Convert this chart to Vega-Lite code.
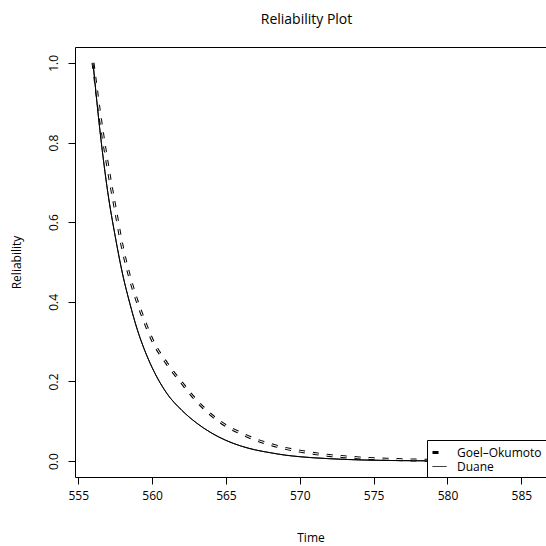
{
  "$schema": "https://vega.github.io/schema/vega-lite/v6.json",
  "width": 471,
  "height": 430,
  "autosize": {"type": "none"},
  "padding": {"left": 75, "top": 47, "right": 0, "bottom": 69},
  "background": "white",
  "config": {
    "font": "Open Sans",
    "view": {"stroke": "black", "strokeWidth": 1},
    "axis": {
      "domain": false,
      "grid": false,
      "tickColor": "black",
      "tickSize": 7,
      "labelColor": "black",
      "labelFontSize": 12,
      "titleColor": "black",
      "titleFontSize": 12,
      "titleFontWeight": "normal"
    },
    "legend": {
      "orient": "bottom-right",
      "offset": 0,
      "strokeColor": "black",
      "fillColor": "white",
      "padding": 4,
      "rowPadding": 0,
      "symbolType": "stroke",
      "symbolSize": 196,
      "symbolStrokeColor": "black",
      "labelFontSize": 12,
      "labelColor": "black",
      "labelOffset": 9,
      "labelLimit": 200
    }
  },
  "title": {
    "text": "Reliability Plot",
    "fontSize": 14,
    "fontWeight": "normal",
    "color": "black",
    "anchor": "middle",
    "frame": "group",
    "dx": -4,
    "offset": 20
  },
  "data": {
    "values": [
      {"model": "Goel–Okumoto", "t": 556, "R": 1.0},
      {"model": "Goel–Okumoto", "t": 556.5, "R": 0.86},
      {"model": "Goel–Okumoto", "t": 557, "R": 0.74},
      {"model": "Goel–Okumoto", "t": 557.5, "R": 0.635},
      {"model": "Goel–Okumoto", "t": 558, "R": 0.535},
      {"model": "Goel–Okumoto", "t": 558.5, "R": 0.46},
      {"model": "Goel–Okumoto", "t": 559, "R": 0.40},
      {"model": "Goel–Okumoto", "t": 559.5, "R": 0.35},
      {"model": "Goel–Okumoto", "t": 560, "R": 0.305},
      {"model": "Goel–Okumoto", "t": 561, "R": 0.245},
      {"model": "Goel–Okumoto", "t": 562, "R": 0.197},
      {"model": "Goel–Okumoto", "t": 563, "R": 0.152},
      {"model": "Goel–Okumoto", "t": 564, "R": 0.116},
      {"model": "Goel–Okumoto", "t": 565, "R": 0.089},
      {"model": "Goel–Okumoto", "t": 566, "R": 0.07},
      {"model": "Goel–Okumoto", "t": 567, "R": 0.054},
      {"model": "Goel–Okumoto", "t": 568, "R": 0.042},
      {"model": "Goel–Okumoto", "t": 569, "R": 0.032},
      {"model": "Goel–Okumoto", "t": 570, "R": 0.025},
      {"model": "Goel–Okumoto", "t": 571, "R": 0.019},
      {"model": "Goel–Okumoto", "t": 572, "R": 0.014},
      {"model": "Goel–Okumoto", "t": 573, "R": 0.011},
      {"model": "Goel–Okumoto", "t": 574, "R": 0.008},
      {"model": "Goel–Okumoto", "t": 576, "R": 0.0045},
      {"model": "Goel–Okumoto", "t": 578, "R": 0.0025},
      {"model": "Goel–Okumoto", "t": 580, "R": 0.0014},
      {"model": "Goel–Okumoto", "t": 583, "R": 0.0006},
      {"model": "Goel–Okumoto", "t": 586.5, "R": 0.0002},
      {"model": "Duane", "t": 556, "R": 1.0},
      {"model": "Duane", "t": 556.5, "R": 0.82},
      {"model": "Duane", "t": 557, "R": 0.675},
      {"model": "Duane", "t": 557.5, "R": 0.565},
      {"model": "Duane", "t": 558, "R": 0.47},
      {"model": "Duane", "t": 558.5, "R": 0.395},
      {"model": "Duane", "t": 559, "R": 0.33},
      {"model": "Duane", "t": 559.5, "R": 0.278},
      {"model": "Duane", "t": 560, "R": 0.235},
      {"model": "Duane", "t": 561, "R": 0.17},
      {"model": "Duane", "t": 562, "R": 0.128},
      {"model": "Duane", "t": 563, "R": 0.096},
      {"model": "Duane", "t": 564, "R": 0.071},
      {"model": "Duane", "t": 565, "R": 0.052},
      {"model": "Duane", "t": 566, "R": 0.038},
      {"model": "Duane", "t": 567, "R": 0.028},
      {"model": "Duane", "t": 568, "R": 0.021},
      {"model": "Duane", "t": 569, "R": 0.015},
      {"model": "Duane", "t": 570, "R": 0.011},
      {"model": "Duane", "t": 572, "R": 0.006},
      {"model": "Duane", "t": 574, "R": 0.003},
      {"model": "Duane", "t": 576, "R": 0.0015},
      {"model": "Duane", "t": 578, "R": 0.0008},
      {"model": "Duane", "t": 580, "R": 0.0004},
      {"model": "Duane", "t": 583, "R": 0.0002},
      {"model": "Duane", "t": 586.5, "R": 0.0001}
    ]
  },
  "encoding": {
    "x": {
      "field": "t",
      "type": "quantitative",
      "scale": {"domain": [554.78, 586.67], "nice": false, "zero": false},
      "axis": {
        "title": "Time",
        "values": [555, 560, 565, 570, 575, 580, 585],
        "format": "d",
        "labelPadding": 6,
        "titlePadding": 31
      }
    },
    "y": {
      "field": "R",
      "type": "quantitative",
      "scale": {"domain": [-0.04, 1.04], "nice": false, "zero": false},
      "axis": {
        "title": "Reliability",
        "values": [0, 0.2, 0.4, 0.6, 0.8, 1.0],
        "format": ".1f",
        "labelAngle": 270,
        "labelAlign": "center",
        "labelBaseline": "bottom",
        "labelPadding": 8,
        "titlePadding": 24
      }
    }
  },
  "layer": [
    {
      "mark": {"type": "line", "color": "black", "interpolate": "monotone"},
      "encoding": {
        "strokeDash": {
          "field": "model",
          "type": "nominal",
          "scale": {"domain": ["Goel–Okumoto", "Duane"], "range": [[6, 8], [1, 0]]},
          "legend": {"title": null}
        },
        "strokeWidth": {
          "field": "model",
          "type": "nominal",
          "scale": {"domain": ["Goel–Okumoto", "Duane"], "range": [3, 1]},
          "legend": {"title": null}
        }
      }
    },
    {
      "transform": [{"filter": "datum.model === 'Goel–Okumoto'"}],
      "mark": {"type": "line", "color": "white", "strokeWidth": 1, "strokeDash": [6, 8], "interpolate": "monotone"},
      "encoding": {}
    },
    {
      "transform": [{"filter": "datum.model === 'Duane'"}],
      "mark": {"type": "line", "color": "black", "strokeWidth": 1, "interpolate": "monotone"},
      "encoding": {}
    }
  ]
}
